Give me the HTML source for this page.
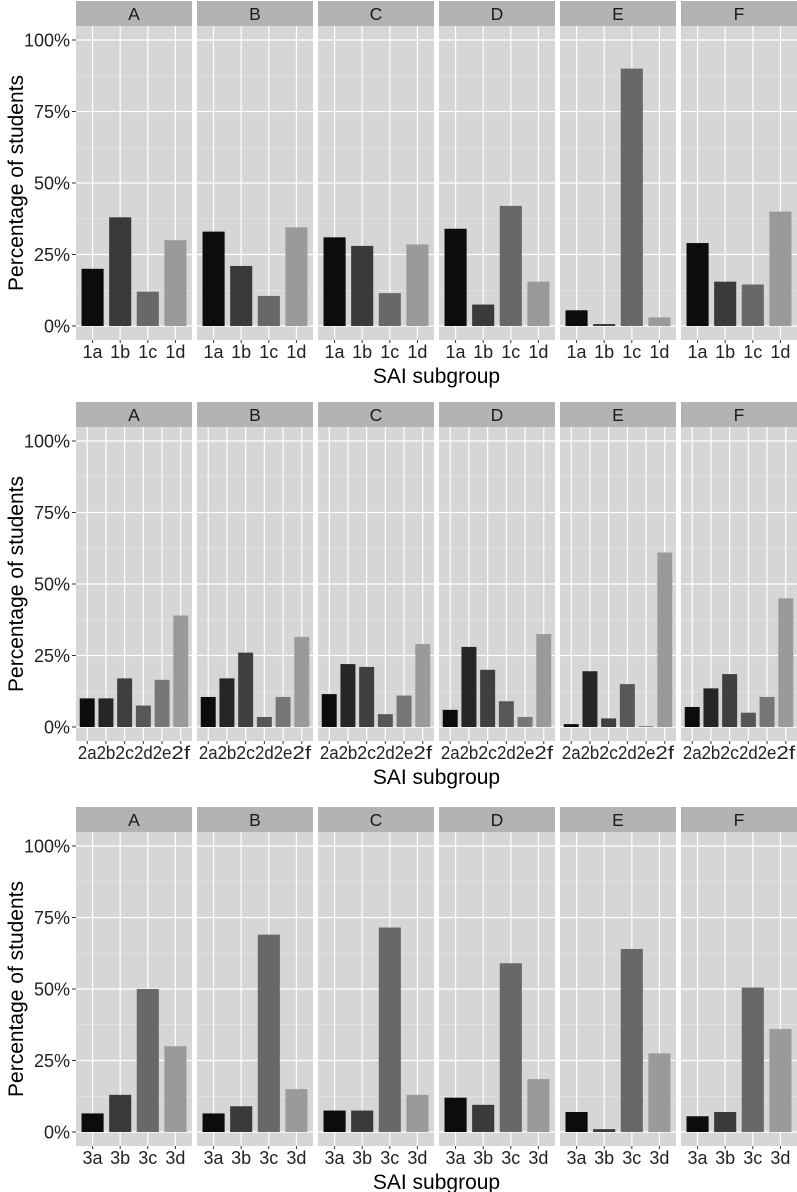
<!DOCTYPE html>
<html><head><meta charset="utf-8"><style>
html,body{margin:0;padding:0;background:#fff}
svg{display:block;font-family:"Liberation Sans",Arial,sans-serif}
</style></head><body>
<svg id="chart" width="797" height="1192" viewBox="0 0 797 1192" xmlns="http://www.w3.org/2000/svg"></svg>
<script>
const facets = ["A","B","C","D","E","F"];
const cats1 = ["1a","1b","1c","1d"];
const cats2 = ["2a","2b","2c","2d","2e","2f"];
const cats3 = ["3a","3b","3c","3d"];
const vals1 = [[20,38,12,30],[33,21,10.5,34.5],[31,28,11.5,28.5],[34,7.5,42,15.5],[5.5,0.7,90,3],[29,15.5,14.5,40]];
const vals2 = [[10,10,17,7.5,16.5,39],[10.5,17,26,3.5,10.5,31.5],[11.5,22,21,4.5,11,29],[6,28,20,9,3.5,32.5],[1,19.5,3,15,0.3,61],[7,13.5,18.5,5,10.5,45]];
const vals3 = [[6.5,13,50,30],[6.5,9,69,15],[7.5,7.5,71.5,13],[12,9.5,59,18.5],[7,1,64,27.5],[5.5,7,50.5,36]];
const yTicks = [0,25,50,75,100];
const yTickLabels = ["0%","25%","50%","75%","100%"];

const NS="http://www.w3.org/2000/svg";
const svg=document.getElementById('chart');
function mk(tag,attrs,parent){const e=document.createElementNS(NS,tag);for(const k in attrs)e.setAttribute(k,attrs[k]);(parent||svg).appendChild(e);return e;}
const pal4=["#0c0c0c","#3a3a3a","#686868","#9a9a9a"];
const pal6=["#0c0c0c","#262626","#3f3f3f","#575757","#777777","#9a9a9a"];
const PX0=76, PW=116, GAP=5;

function section(top, cats, vals, idx){
  const g=mk('g',{});
  
  
  const stripTop=top, stripH=25, panelTop=top+25, zeroY=top+325, panelBot=top+339;
  const yS=v=>zeroY-v*2.86;
  const n=cats.length, unit=PW/(n-1+1.2), bw=unit*0.8;
  const pal = n===4?pal4:pal6;
  yTicks.forEach((t,i)=>{
    const tx=mk('text',{x:70,y:yS(t)+6.5,'text-anchor':'end','font-size':18,fill:'#222'},g);
    tx.textContent=yTickLabels[i];
    
    
    mk('line',{x1:72,x2:76,y1:yS(t),y2:yS(t),stroke:'#333','stroke-width':1},g);
  });
  const yt=mk('text',{x:0,y:0,transform:`translate(23,${(panelTop+panelBot)/2}) rotate(-90)`,'text-anchor':'middle','font-size':21,fill:'#000'},g);
  yt.textContent='Percentage of students';
  
  
  facets.forEach((f,fi)=>{
    const x0=PX0+fi*(PW+GAP);
    const p=mk('g',{},g);
    
    
    mk('rect',{x:x0,y:stripTop,width:PW,height:stripH,fill:'#b3b3b3'},p);
    const st=mk('text',{x:x0+PW/2,y:stripTop+19,'text-anchor':'middle','font-size':17.5,fill:'#1a1a1a'},p);
    st.textContent=f;
    
    
    mk('rect',{x:x0,y:panelTop,width:PW,height:panelBot-panelTop,fill:'#d6d6d6'},p);
    for(let k=0;k<4;k++){const v=k*25+12.5;mk('line',{x1:x0,x2:x0+PW,y1:yS(v),y2:yS(v),stroke:'#ececec','stroke-width':0.6},p);}
    yTicks.forEach(t=>mk('line',{x1:x0,x2:x0+PW,y1:yS(t),y2:yS(t),stroke:'#fff','stroke-width':1.2},p));
    cats.forEach((c,ci)=>{
      const cx=x0+unit*(0.6+ci);
      mk('line',{x1:cx,x2:cx,y1:panelTop,y2:panelBot,stroke:'#fff','stroke-width':1.2},p);
    });
    cats.forEach((c,ci)=>{
      const cx=x0+unit*(0.6+ci), v=vals[fi][ci];
      const b=mk('rect',{x:cx-bw/2,y:yS(v),width:bw,height:zeroY-yS(v),fill:pal[ci]},p);
      
      
      mk('line',{x1:cx,x2:cx,y1:panelBot,y2:panelBot+3,stroke:'#333'},p);
      const tl=mk('text',{x:cx,y:panelBot+18,'text-anchor':'middle','font-size':18,fill:'#222'},p);
      if(n===6) tl.setAttribute('textLength',unit), tl.setAttribute('lengthAdjust','spacingAndGlyphs');
      tl.textContent=c;
      
      
    });
  });
  const xt=mk('text',{x:PX0+(6*PW+5*GAP)/2,y:panelBot+43,'text-anchor':'middle','font-size':21,fill:'#000'},g);
  xt.textContent='SAI subgroup';
  
  
}
section(1,cats1,vals1,1);
section(402,cats2,vals2,2);
section(807,cats3,vals3,3);
</script>
</body></html>
